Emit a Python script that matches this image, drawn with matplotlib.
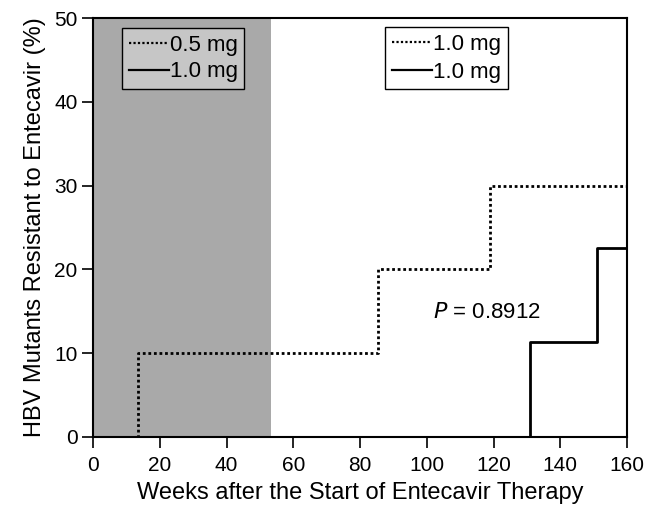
import matplotlib
matplotlib.use("Agg")
import matplotlib.pyplot as plt
from matplotlib.lines import Line2D

plt.rcParams['font.family'] = ['Liberation Sans', 'DejaVu Sans']

# Data
weeks_dotted = [0, 13.5, 85.5, 119, 160]
resist_dotted = [0, 10, 20, 30, 30]
weeks_solid = [0, 131, 151, 160]
resist_solid = [0, 11.3, 22.5, 22.5]
shade_end = 53.3
xticks = [0, 20, 40, 60, 80, 100, 120, 140, 160]
yticks = [0, 10, 20, 30, 40, 50]
left_labels = ["0.5 mg", "1.0 mg"]
right_labels = ["1.0 mg", "1.0 mg"]
p_text = "$\\it{P}$ = 0.8912"

fig = plt.figure(figsize=(6.46, 5.09), dpi=100)
ax = fig.add_axes([0.144, 0.1415, 0.8266, 0.8231])

ax.axvspan(0, shade_end, color='#a9a9a9', lw=0, zorder=0)

dot_ls = (0, (1, 1))
l1, = ax.step(weeks_dotted, resist_dotted, where='post', color='black', lw=2.0, ls=dot_ls, zorder=3)
l2, = ax.step(weeks_solid, resist_solid, where='post', color='black', lw=2.0, zorder=3)

ax.set_xlim(0, 160)
ax.set_ylim(0, 50)
ax.set_xticks(xticks)
ax.set_yticks(yticks)
ax.tick_params(direction='out', length=8, width=1.2, labelsize=15, colors='black')
ax.tick_params(axis='x', pad=6)
ax.tick_params(axis='y', pad=3)
for s in ax.spines.values():
    s.set_linewidth(1.5)

ax.set_xlabel("Weeks after the Start of Entecavir Therapy", fontsize=17, labelpad=5)
ax.set_ylabel("HBV Mutants Resistant to Entecavir (%)", fontsize=17, labelpad=6)

h1 = Line2D([], [], color='black', lw=1.6, ls=dot_ls)
h2 = Line2D([], [], color='black', lw=1.6)

leg_kw = dict(loc='upper left', fontsize=16, frameon=True, fancybox=False,
              handlelength=1.8, handletextpad=0.05, borderaxespad=0)

leg1 = ax.legend([h1, h2], left_labels, bbox_to_anchor=(0.054, 0.976),
                 borderpad=0.3, labelspacing=0.25, **leg_kw)
leg1.get_frame().set_facecolor('#c6c6c6')
leg1.get_frame().set_edgecolor('black')
leg1.get_frame().set_alpha(1)
leg1.get_frame().set_linewidth(1.0)
ax.add_artist(leg1)

leg2 = ax.legend([h1, h2], right_labels, bbox_to_anchor=(0.547, 0.978),
                 borderpad=0.3, labelspacing=0.3, **leg_kw)
leg2.get_frame().set_facecolor('white')
leg2.get_frame().set_edgecolor('black')
leg2.get_frame().set_alpha(1)
leg2.get_frame().set_linewidth(1.0)

ax.text(102, 14.8, p_text, fontsize=16, va='center', ha='left')

fig.savefig("out.png", dpi=100)
